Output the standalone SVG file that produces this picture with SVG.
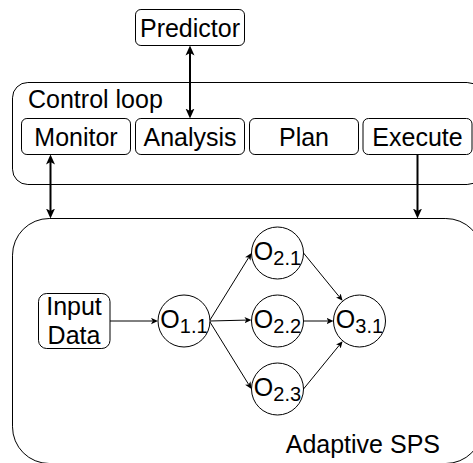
<svg xmlns="http://www.w3.org/2000/svg" width="473" height="463" viewBox="0 0 473 463">
<style>
text{font-family:"Liberation Sans",Arial,sans-serif;font-size:25px;fill:#000}
.box{fill:#fff;stroke:#000;stroke-width:1}
.c{fill:#fff;stroke:#000;stroke-width:1}
.thick{stroke:#000;stroke-width:2;fill:none}
.thin{stroke:#000;stroke-width:1;fill:none}
.sub{font-size:20px}
</style>
<defs>
<marker id="big" viewBox="0 0 10 10" refX="2.5" refY="5" markerWidth="10" markerHeight="10" markerUnits="userSpaceOnUse" orient="auto-start-reverse">
<path d="M0,0.5 L10,5 L0,9.5 L2.5,5 z" fill="#000"/>
</marker>
<marker id="small" viewBox="0 0 10 10" refX="2.5" refY="5" markerWidth="7" markerHeight="7" markerUnits="userSpaceOnUse" orient="auto">
<path d="M0,0.5 L10,5 L0,9.5 L2.5,5 z" fill="#000"/>
</marker>
</defs>

<g id="control-loop">
<rect class="box" x="12.5" y="82.5" width="470" height="102" rx="15.3"/>
<text x="28" y="108">Control loop</text>
</g>
<g id="adaptive-sps">
<rect class="box" x="12.5" y="218.5" width="470" height="245" rx="36.7"/>
<text x="440" y="453" text-anchor="end">Adaptive SPS</text>
</g>
<g id="predictor">
<rect class="box" x="135.5" y="9.5" width="109" height="36" rx="5.4"/>
<text x="190" y="36.5" text-anchor="middle">Predictor</text>
</g>
<g id="monitor">
<rect class="box" x="21.5" y="118.5" width="109" height="36" rx="5.4"/>
<text x="76" y="145.5" text-anchor="middle">Monitor</text>
</g>
<g id="analysis">
<rect class="box" x="135.5" y="118.5" width="109" height="36" rx="5.4"/>
<text x="190" y="145.5" text-anchor="middle">Analysis</text>
</g>
<g id="plan">
<rect class="box" x="249.5" y="118.5" width="109" height="36" rx="5.4"/>
<text x="304" y="145.5" text-anchor="middle">Plan</text>
</g>
<g id="execute">
<rect class="box" x="363" y="118.5" width="109" height="36" rx="5.4"/>
<text x="417.5" y="145.5" text-anchor="middle">Execute</text>
</g>
<g id="input-data">
<rect class="box" x="38.5" y="293.5" width="71.5" height="55" rx="8.2"/>
<text x="74" y="315" text-anchor="middle">Input</text>
<text x="74" y="344" text-anchor="middle">Data</text>
</g>
<g id="o11">
<circle class="c" cx="184" cy="321" r="26"/>
<text x="184" y="328" text-anchor="middle">O<tspan class="sub" dy="5">1.1</tspan></text>
</g>
<g id="o21">
<circle class="c" cx="277.5" cy="253" r="26"/>
<text x="277.5" y="260" text-anchor="middle">O<tspan class="sub" dy="5">2.1</tspan></text>
</g>
<g id="o22">
<circle class="c" cx="277.5" cy="321" r="26"/>
<text x="277.5" y="328" text-anchor="middle">O<tspan class="sub" dy="5">2.2</tspan></text>
</g>
<g id="o23">
<circle class="c" cx="277.5" cy="389" r="26"/>
<text x="277.5" y="396" text-anchor="middle">O<tspan class="sub" dy="5">2.3</tspan></text>
</g>
<g id="o31">
<circle class="c" cx="359.5" cy="321" r="26"/>
<text x="359.5" y="328" text-anchor="middle">O<tspan class="sub" dy="5">3.1</tspan></text>
</g>

<g id="connectors">
<line class="thick" x1="190" y1="53" x2="190" y2="111" marker-start="url(#big)" marker-end="url(#big)"/>
<line class="thick" x1="50.5" y1="162" x2="50.5" y2="211" marker-start="url(#big)" marker-end="url(#big)"/>
<line class="thick" x1="417.5" y1="154.5" x2="417.5" y2="211" marker-end="url(#big)"/>
<line class="thin" x1="110" y1="321" x2="152.75" y2="321" marker-end="url(#small)"/>
<line class="thin" x1="210" y1="320" x2="248.7" y2="257.5" marker-end="url(#small)"/>
<line class="thin" x1="210" y1="321" x2="246.25" y2="320.1" marker-end="url(#small)"/>
<line class="thin" x1="210" y1="322" x2="248.7" y2="384.5" marker-end="url(#small)"/>
<line class="thin" x1="303.5" y1="253" x2="339.3" y2="296.8" marker-end="url(#small)"/>
<line class="thin" x1="303.5" y1="321" x2="328.25" y2="321" marker-end="url(#small)"/>
<line class="thin" x1="303.5" y1="389" x2="339.3" y2="345.2" marker-end="url(#small)"/>
</g>
</svg>
